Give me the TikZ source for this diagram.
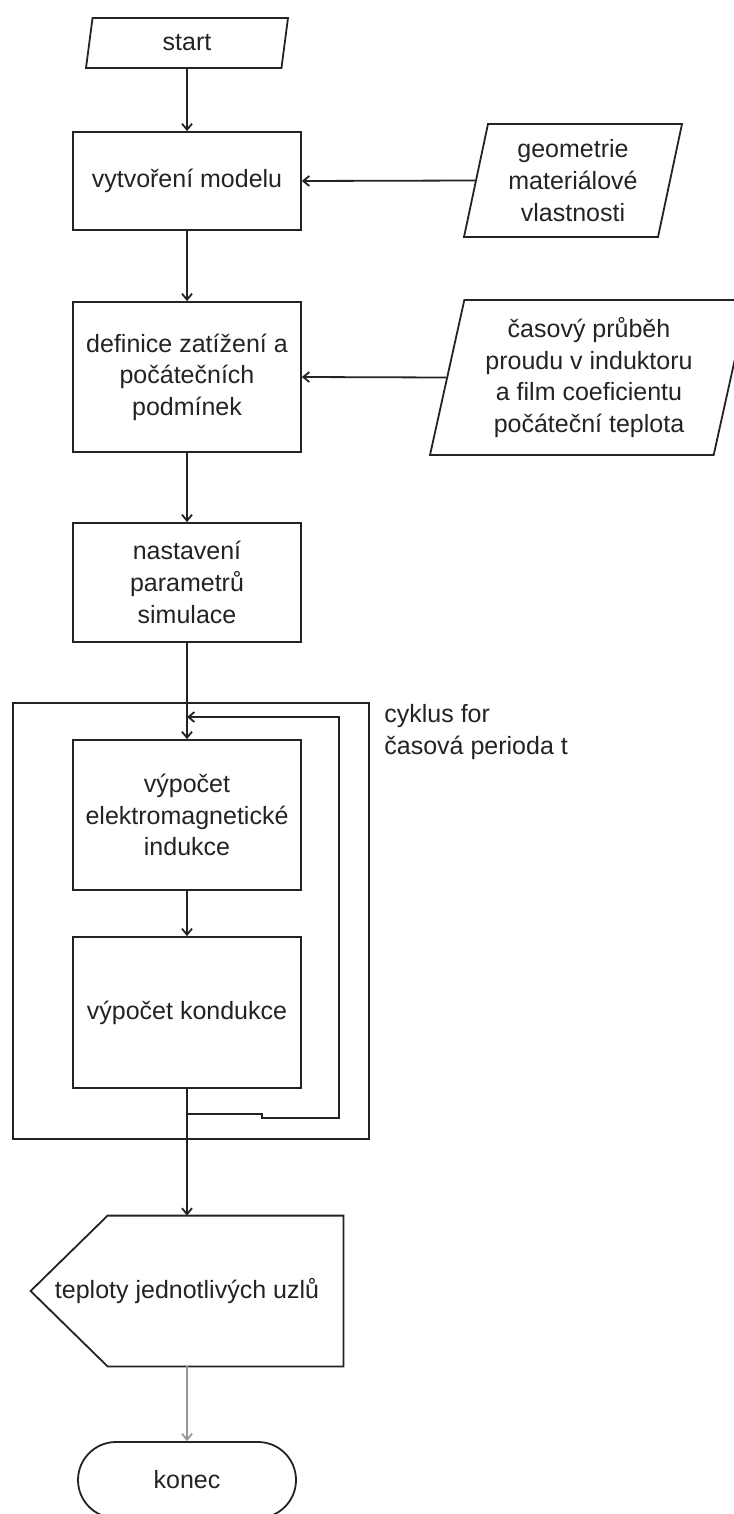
\documentclass[tikz,border=0pt]{standalone}
\usepackage{fontspec}
\setmainfont{Liberation Sans}
\usetikzlibrary{arrows.meta, positioning, shapes.geometric, shapes.misc}
\definecolor{inkgray}{RGB}{35,35,35}
\definecolor{softgray}{RGB}{150,150,150}

\begin{document}
\begin{tikzpicture}[
    x=0.5pt, y=-0.5pt,
    font=\fontsize{12.5}{15.8}\selectfont,
    text=inkgray,
    base/.style={draw=inkgray, line width=0.9pt, align=center, inner sep=2pt},
    proc/.style={base, rectangle, minimum width=114pt},
    io/.style={base, trapezium, trapezium left angle=75, trapezium right angle=105,
               trapezium stretches body},
    disp/.style={align=center, inner sep=0pt, minimum width=156pt, minimum height=75pt},
    term/.style={base, rounded rectangle, minimum width=113pt, minimum height=38pt},
    loopframe/.style={draw=inkgray, line width=0.9pt, minimum width=178pt, minimum height=218pt},
    wire/.style={line width=0.9pt, draw=inkgray},
    line/.style={-{Straight Barb[length=3pt, width=5pt]}, line width=0.9pt, draw=inkgray},
    note/.style={anchor=west, align=left, inner sep=0pt},
  ]
  \fill[white] (0,0) rectangle (733,1514);
  \useasboundingbox (0,0) rectangle (733,1514);
  % main flow
    \node[io, minimum width=101pt, minimum height=25pt] (start) at (187,43) {start};
    \node[proc, minimum height=49pt]   (model) at (187,181)   {vytvoření modelu};
    \node[proc, minimum height=75pt]   (load)  at (187,377)   {definice zatížení a\\počátečních\\podmínek};
    \node[proc, minimum height=59.5pt] (setup) at (187,582.5) {nastavení\\parametrů\\simulace};
    % inputs
    \node[io, minimum width=109pt, minimum height=56.5pt] (geom) at (573,180.5)
        {geometrie\\materiálové\\vlastnosti};
    \node[io, minimum width=159pt, minimum height=77.5pt] (curr) at (589,377.5)
        {časový průběh\\proudu v induktoru\\a film coeficientu\\počáteční teplota};
    % time loop
    \node[loopframe] (loop) at (191,921) {};
    \node[proc, minimum height=75pt]   (em)   at (187,815)    {výpočet\\elektromagnetické\\indukce};
    \node[proc, minimum height=75.5pt] (cond) at (187,1012.5) {výpočet kondukce};
    \node[note] (looplab) at (384,732) {cyklus for\\časová perioda t};
    % output
    \node[disp] (temps) at (187,1291) {teploty jednotlivých uzlů};
    \draw[wire] (temps.west) -- ([xshift=38.5pt]temps.north west) -- (temps.north east)
        -- (temps.south east) -- ([xshift=38.5pt]temps.south west) -- cycle;
    \node[term] (end) at (187,1480) {konec};
    % arrows
    \draw[line] (start.south) -- (model.north);
    \draw[line] (geom.west) -- (model.east);
    \draw[line] (model.south) -- (load.north);
    \draw[line] (curr.west) -- (load.east);
    \draw[line] (load.south) -- (setup.north);
    \draw[line] (setup.south) -- (em.north);
    \draw[line] (em.south) -- (cond.north);
    \draw[line] (cond.south) -- (temps.north);
    \draw[line, draw=softgray] (temps.south) -- (end.north);
    % loop return
    \coordinate (back)  at (187,1114);
    \coordinate (entry) at (187,717);
    \draw[line] (back) -- ++(75,0) -- ++(0,4) -- (339,1118) -- (339,717) -- (entry);
  \end{tikzpicture}
\end{document}
